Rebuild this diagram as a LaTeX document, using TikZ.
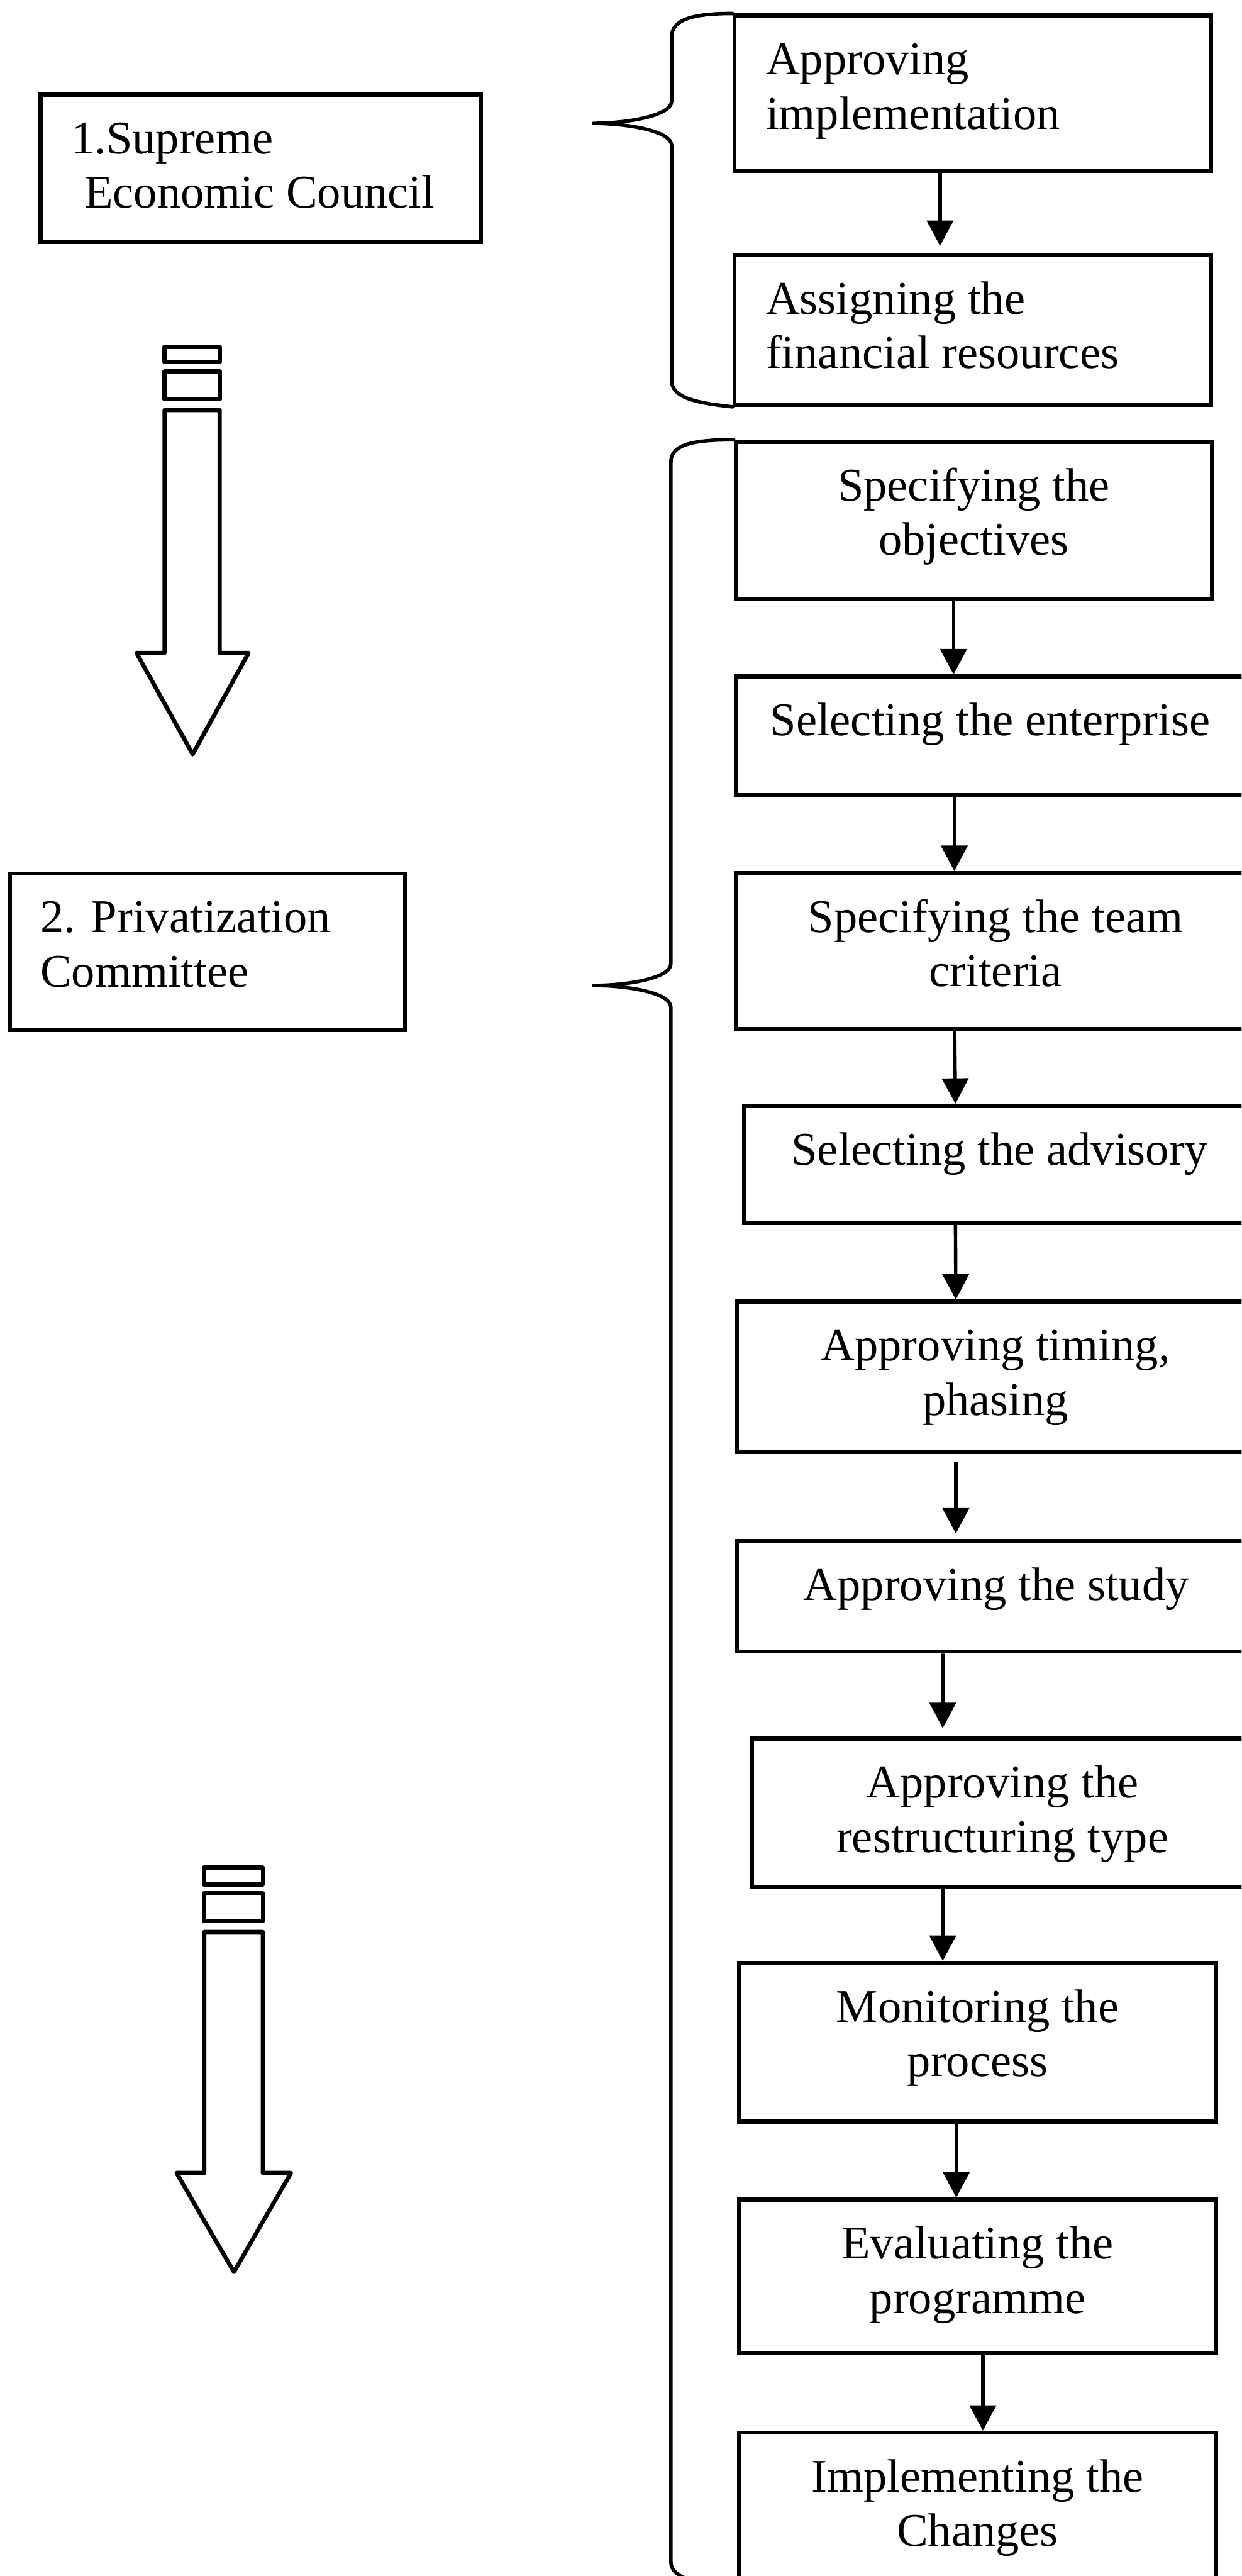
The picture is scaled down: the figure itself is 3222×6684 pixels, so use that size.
\documentclass[tikz,border=0pt]{standalone}
\usepackage{fontspec}
\setmainfont{Liberation Serif}
\usetikzlibrary{arrows.meta}

\tikzset{
  box/.style={draw, line width=3pt, inner sep=0pt, anchor=north west},
  ctext/.style={inner sep=0pt, anchor=north, align=center,
    font=\fontsize{34.6}{40.1}\selectfont},
  ltext/.style={inner sep=0pt, anchor=north west, align=left,
    font=\fontsize{34.6}{40.1}\selectfont},
  conn/.style={line width=2.5pt, -{Triangle[length=0.66cm,width=0.68cm]}},
  brace/.style={line width=2.6pt, line cap=round, line join=round},
  bigarrow/.style={line width=3.1pt, line join=round},
}

% box at (left,top) with width and height in pixel units
\newcommand{\boxat}[5]{%
  \node[box, minimum width=#4*0.01cm, minimum height=#5*0.01cm] (#1) at (#2,#3) {};}

\begin{document}
\begin{tikzpicture}[x=0.01cm, y=-0.01cm]
\useasboundingbox (0,0) rectangle (3222,6684);
\fill[white] (0,0) rectangle (3222,6684);
\clip (0,0) rectangle (3222,6684);

% ---------- left column: the two bodies ----------
\boxat{sec1}{100}{240}{1143}{382}
\node[ltext] (sec1t) at ([xshift=0.84cm,yshift=-0.594cm]sec1.north west)
  {\strut 1.Supreme\\\hspace*{0.28em}Economic Council};

\boxat{sec2}{20}{2261}{1026}{407}
\node[ltext] (sec2t) at ([xshift=0.84cm,yshift=-0.594cm]sec2.north west)
  {\strut 2. Privatization\\Committee};

% ---------- hollow downward arrows ----------
\draw[bigarrow] (427,900) rectangle (570,939);
\draw[bigarrow] (427,964) rectangle (570,1036);
\draw[bigarrow] (427,1064) -- (427,1694) -- (354,1694) -- (500,1957)
  -- (645,1694) -- (570,1694) -- (570,1064) -- cycle;

\draw[bigarrow] (530,4846) rectangle (682,4890);
\draw[bigarrow] (530,4912) rectangle (682,4985);
\draw[bigarrow] (530,5013) -- (530,5638) -- (458,5638) -- (607,5895)
  -- (755,5638) -- (682,5638) -- (682,5013) -- cycle;

% ---------- tasks of the council ----------
\boxat{a1}{1901}{35}{1237}{403}
\node[ltext] (a1t) at ([xshift=0.86cm,yshift=-0.594cm]a1.north west)
  {\strut Approving\\implementation};
\boxat{a2}{1901}{656}{1237}{389}
\node[ltext] (a2t) at ([xshift=0.86cm,yshift=-0.594cm]a2.north west)
  {\strut Assigning the\\financial resources};
\draw[conn, shorten >=0.18cm] ([xshift=5.38cm]a1.south west) -- ([xshift=5.38cm]a2.north west);

% ---------- tasks of the committee ----------
\boxat{b1}{1904}{1141}{1235}{409}
\boxat{b2}{1904}{1750}{1320}{308}
\boxat{b3}{1904}{2260}{1348}{405}
\boxat{b4}{1926}{2864}{1326}{304}
\boxat{b5}{1907}{3372}{1342}{390}
\boxat{b6}{1907}{3993}{1346}{287}
\boxat{b7}{1946}{4506}{1300}{385}
\boxat{b8}{1912}{5088}{1239}{412}
\boxat{b9}{1912}{5702}{1239}{397}
\boxat{b10}{1912}{6307}{1239}{398}

\node[ctext] (b1t) at ([yshift=-0.594cm]b1.north) {\strut Specifying the\\objectives};
\node[ctext] (b2t) at ([yshift=-0.594cm]b2.north) {\strut Selecting the enterprise};
\node[ctext] (b3t) at ([yshift=-0.594cm]b3.north) {\strut Specifying the team\\criteria};
\node[ctext] (b4t) at ([yshift=-0.594cm]b4.north) {\strut Selecting the advisory};
\node[ctext] (b5t) at ([yshift=-0.594cm]b5.north) {\strut Approving timing,\\phasing};
\node[ctext] (b6t) at ([yshift=-0.594cm]b6.north) {\strut Approving the study};
\node[ctext] (b7t) at ([yshift=-0.594cm]b7.north) {\strut Approving the\\restructuring type};
\node[ctext] (b8t) at ([yshift=-0.594cm]b8.north) {\strut Monitoring the\\process};
\node[ctext] (b9t) at ([yshift=-0.594cm]b9.north) {\strut Evaluating the\\programme};
\node[ctext] (b10t) at ([yshift=-0.594cm]b10.north) {\strut Implementing the\\Changes};

\draw[conn] ([xshift=5.70cm]b1.south west) -- ([xshift=5.70cm]b2.north west);
\draw[conn] ([xshift=5.72cm]b2.south west) -- ([xshift=5.72cm]b3.north west);
\draw[conn] ([xshift=5.73cm]b3.south west) -- ([xshift=5.53cm]b4.north west);
\draw[conn] ([xshift=5.53cm]b4.south west) -- ([xshift=5.73cm]b5.north west);
\draw[conn, shorten <=0.22cm, shorten >=0.14cm] ([xshift=5.73cm]b5.south west) -- ([xshift=5.73cm]b6.north west);
\draw[conn, shorten >=0.22cm] ([xshift=5.39cm]b6.south west) -- ([xshift=5.00cm]b7.north west);
\draw[conn] ([xshift=5.00cm]b7.south west) -- ([xshift=5.34cm]b8.north west);
\draw[conn] ([xshift=5.69cm]b8.south west) -- ([xshift=5.69cm]b9.north west);
\draw[conn] ([xshift=6.38cm]b9.south west) -- ([xshift=6.38cm]b10.north west);

% ---------- braces ----------
\draw[brace] (a1.north west) .. controls (1800,35) and (1743,50) .. (1743,95)
  -- (1743,262) .. controls (1743,302) and (1620,320) .. (1540,320)
  .. controls (1620,320) and (1743,338) .. (1743,378)
  -- (1743,988) .. controls (1743,1030) and (1800,1045) .. (a2.south west);

\draw[brace] (b1.north west) .. controls (1803,1141) and (1741,1152) .. (1741,1198)
  -- (1741,2500) .. controls (1741,2540) and (1620,2557) .. (1541,2557)
  .. controls (1620,2557) and (1741,2574) .. (1741,2614)
  -- (1741,6648) .. controls (1741,6690) and (1810,6705) .. (b10.south west);

\end{tikzpicture}
\end{document}
